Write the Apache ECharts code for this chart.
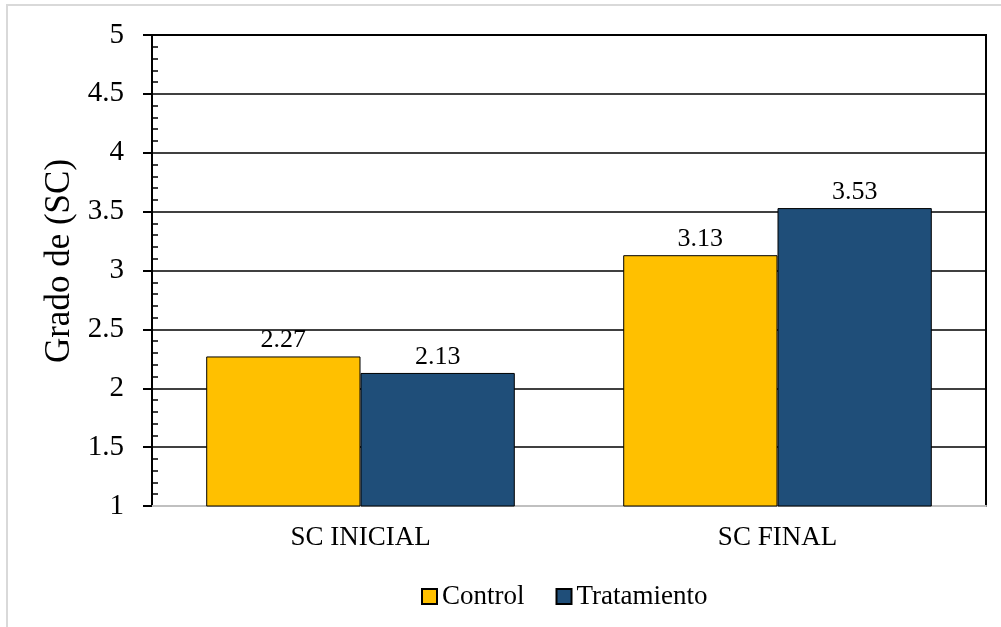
<!DOCTYPE html>
<html style="height: 100%">
   <head>
       <meta charset="utf-8">
   </head>
   <body style="height: 100%; margin: 0; background: #fff">
       <div style="position:absolute; left:6px; top:4px; width:1000px; height:640px; border:2px solid #d9d9d9; box-sizing:border-box"></div>
       <div id="container" style="position:absolute; left:0; top:0; width:1001px; height:627px"></div>
       <script type="text/javascript" src="https://cdn.jsdelivr.net/npm/echarts@6/dist/echarts.min.js"></script>
       <script type="text/javascript">
// datos del grafico
var categorias = ['SC INICIAL', 'SC FINAL'];
var control = [2.27, 3.13];
var tratamiento = [2.13, 3.53];
var serieNombres = ['Control', 'Tratamiento'];

var fuente = 'Liberation Serif';
var dom = document.getElementById("container");
var myChart = echarts.init(dom);

var etiqueta = {
    show: true,
    position: 'top',
    distance: 3,
    color: '#000',
    fontFamily: fuente,
    fontSize: 26
};

option = {
    animation: false,
    grid: {
        left: 152,
        right: 15,
        top: 35,
        bottom: 121,
        show: true,
        borderColor: '#000',
        borderWidth: 2,
        backgroundColor: 'transparent'
    },
    legend: {
        left: 416,
        top: 578,
        itemWidth: 15,
        itemHeight: 15,
        itemGap: 31,
        icon: 'rect',
        textStyle: {
            fontFamily: fuente,
            fontSize: 27,
            color: '#000'
        },
        data: serieNombres
    },
    xAxis: {
        type: 'category',
        data: categorias,
        axisLine: { lineStyle: { color: '#c0c0c0', width: 2 } },
        axisTick: { show: false },
        axisLabel: {
            fontFamily: fuente,
            fontSize: 27,
            color: '#000',
            margin: 18
        }
    },
    yAxis: [
      {
        type: 'value',
        min: 1,
        max: 5,
        interval: 0.5,
        name: 'Grado de (SC)',
        nameLocation: 'middle',
        nameGap: 75,
        nameTextStyle: {
            fontFamily: fuente,
            fontSize: 35,
            color: '#000',
            padding: [0, 0, 0, 19]
        },
        axisLine: { show: true, lineStyle: { color: '#000', width: 2 } },
        axisTick: { show: true, length: 9, lineStyle: { color: '#000', width: 2 } },
        axisLabel: {
            fontFamily: fuente,
            fontSize: 29,
            color: '#000',
            margin: 28
        },
        splitLine: { show: true, lineStyle: { color: '#000', width: 1.5 } }
      },
      {
        // eje auxiliar solo para las marcas menores hacia dentro
        type: 'value',
        position: 'left',
        min: 1,
        max: 5,
        interval: 0.5,
        axisLine: { show: false },
        axisTick: { show: false, inside: true },
        axisLabel: { show: false },
        splitLine: { show: false },
        minorTick: {
            show: true,
            splitNumber: 5,
            length: 6,
            lineStyle: { color: '#000', width: 1.5 }
        }
      }
    ],
    series: [
        {
            name: serieNombres[0],
            type: 'bar',
            data: control,
            barGap: 0,
            barCategoryGap: '26%',
            itemStyle: { color: '#FFC000', borderColor: '#000', borderWidth: 1 },
            label: etiqueta
        },
        {
            name: serieNombres[1],
            type: 'bar',
            data: tratamiento,
            barGap: 0,
            barCategoryGap: '26%',
            itemStyle: { color: '#1F4E79', borderColor: '#000', borderWidth: 1 },
            label: etiqueta
        }
    ]
};

function initMyChart(){
  if (option && typeof option === "object") {
    myChart.setOption(option, true);
  }
}

initMyChart()
</script>
   </body>
</html>
